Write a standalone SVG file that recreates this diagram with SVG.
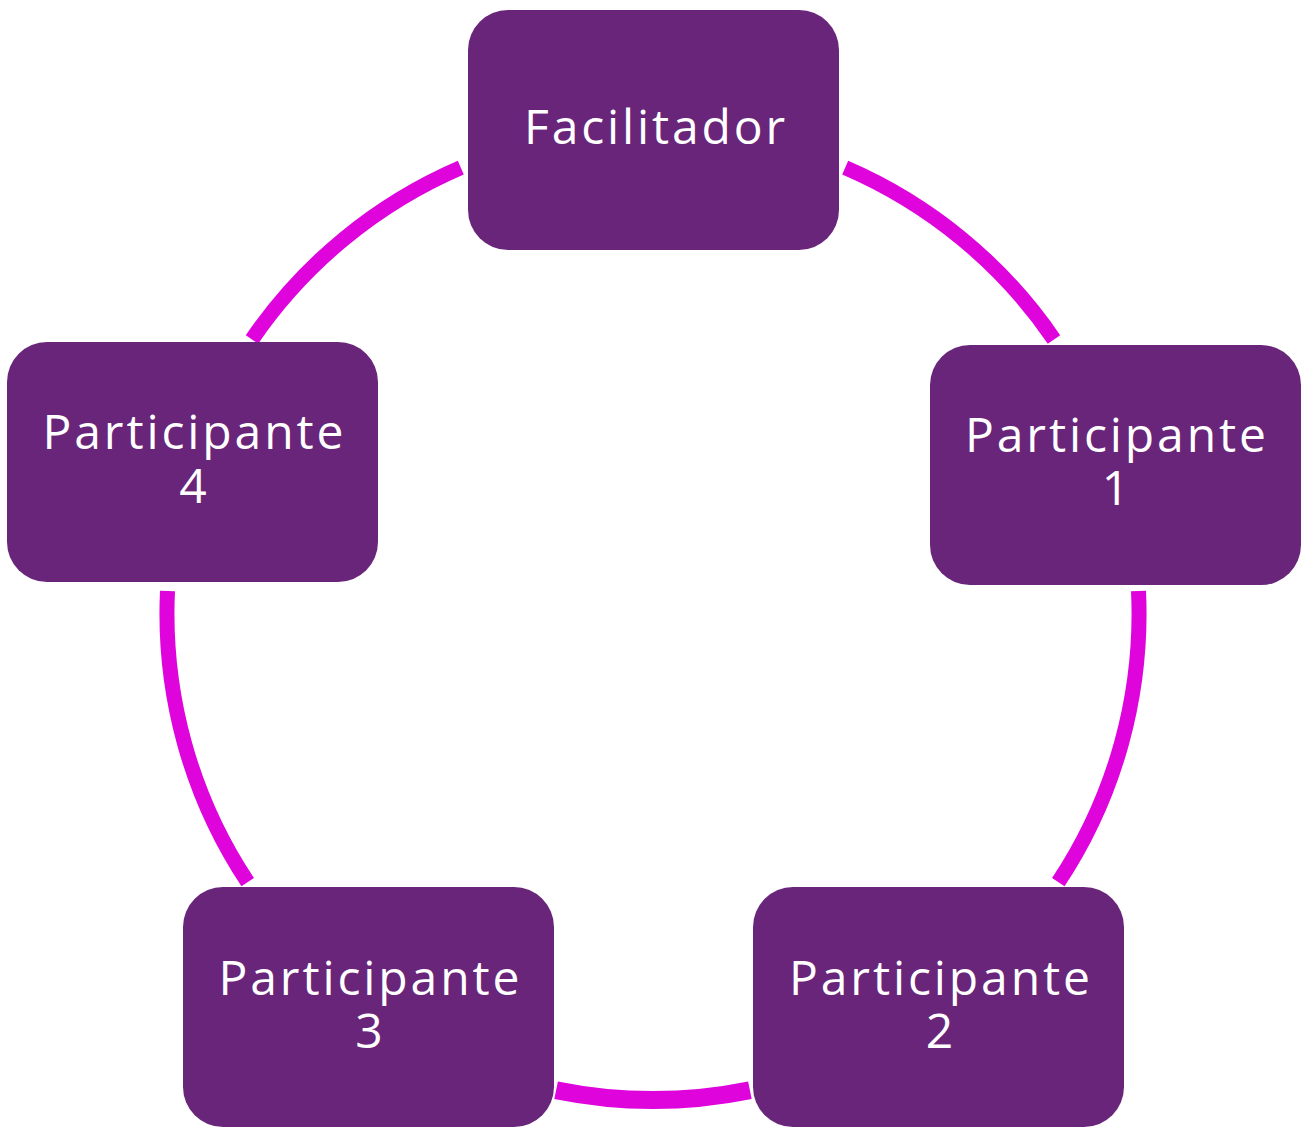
<svg xmlns="http://www.w3.org/2000/svg" width="1306" height="1131" viewBox="0 0 1306 1131">
<style>
.node{fill:#69257A;}
.lbl{fill:#FFFFFF;font-family:"Open Sans","Liberation Sans",sans-serif;font-size:48px;text-anchor:middle;}
.arc{fill:none;stroke:#DF03DC;stroke-width:15;stroke-linecap:butt;}
</style>
<rect width="1306" height="1131" fill="#FFFFFF"/>
<g id="connectors">
<path class="arc" d="M845.2,167.6 A486,486 0 0 1 1054,339.4"/>
<path class="arc" d="M1138.5,591 A486,486 0 0 1 1058.3,882.2"/>
<path class="arc" style="stroke-width:18" d="M749.9,1090.2 A486,486 0 0 1 556.1,1090.2"/>
<path class="arc" d="M247.7,882.2 A486,486 0 0 1 167.5,591"/>
<path class="arc" d="M252,339.4 A486,486 0 0 1 460.8,167.6"/>
</g>
<g id="facilitador">
<rect class="node" x="468" y="10" width="371" height="240" rx="40"/>
<text class="lbl" x="654.5" y="144" textLength="261" lengthAdjust="spacing">Facilitador</text>
</g>
<g id="participante1">
<rect class="node" x="930" y="345" width="371" height="240" rx="40"/>
<text class="lbl"><tspan x="1115.5" y="452" textLength="301" lengthAdjust="spacing">Participante</tspan><tspan x="1115.5" y="505">1</tspan></text>
</g>
<g id="participante2">
<rect class="node" x="753" y="887" width="371" height="240" rx="40"/>
<text class="lbl"><tspan x="939.5" y="995" textLength="301" lengthAdjust="spacing">Participante</tspan><tspan x="939.5" y="1048">2</tspan></text>
</g>
<g id="participante3">
<rect class="node" x="183" y="887" width="371" height="240" rx="40"/>
<text class="lbl"><tspan x="369" y="995" textLength="301" lengthAdjust="spacing">Participante</tspan><tspan x="369" y="1048">3</tspan></text>
</g>
<g id="participante4">
<rect class="node" x="7" y="342" width="371" height="240" rx="40"/>
<text class="lbl"><tspan x="193" y="449" textLength="301" lengthAdjust="spacing">Participante</tspan><tspan x="193" y="503">4</tspan></text>
</g>
</svg>
